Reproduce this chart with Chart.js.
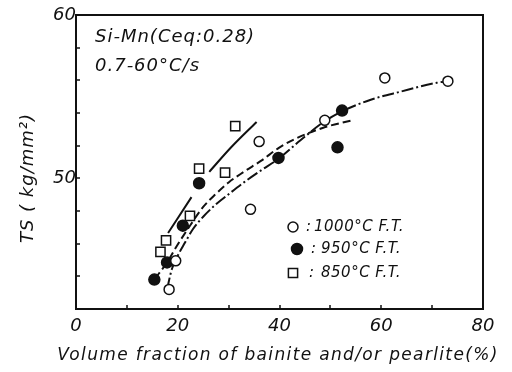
<!DOCTYPE html>
<html>
<head>
<meta charset="utf-8">
<script src="https://cdn.jsdelivr.net/npm/chart.js@4"></script>
<style>
  html, body { margin: 0; padding: 0; background: #fff; }
  canvas { display: block; }
</style>
</head>
<body>
<canvas id="ts-chart" width="512" height="372"></canvas>
<script>
// axis
const xMin = 0, xMax = 80, xStep = 10;
const yMin = 42, yMax = 60, yStep = 2;
const xTickLabels = [0, 20, 40, 60, 80];
const yTickLabels = [50, 60];

// measured TS, by finish temperature
const ft1000X = [60.7, 73.1, 48.9, 36.0, 34.3, 19.6, 18.3];
const ft1000Y = [56.15, 55.95, 53.55, 52.25, 48.1, 44.95, 43.2];
const ft950X = [52.3, 51.4, 39.8, 24.2, 21.0, 17.9, 15.4];
const ft950Y = [54.15, 51.9, 51.25, 49.7, 47.1, 44.85, 43.8];
const ft850X = [31.3, 24.2, 29.3, 22.4, 17.7, 16.6];
const ft850Y = [53.2, 50.6, 50.35, 47.7, 46.2, 45.5];

// hand-drawn trend curves
const fit1000X = [17.9, 18.8, 19.9, 21.4, 23.0, 25.0, 27.3, 30.3, 33.0, 36.2, 39.8, 44.0, 48.9, 52.3, 57.8, 63.7, 70.9, 73.1];
const fit1000Y = [43.2, 44.4, 45.2, 46.05, 46.9, 47.65, 48.35, 49.1, 49.75, 50.45, 51.2, 52.3, 53.5, 54.1, 54.8, 55.3, 55.85, 55.95];
const fit950X = [15.5, 17.9, 19.6, 22.4, 25.0, 27.5, 30.0, 33.0, 36.5, 39.8, 43.0, 48.6, 54.2];
const fit950Y = [43.85, 44.85, 45.75, 47.1, 48.25, 49.05, 49.75, 50.4, 51.1, 51.85, 52.4, 53.1, 53.55];
const fit850X = [18.1, 22.7, 24.4, 26.2, 30.5, 35.5];
const fit850Y = [46.65, 48.85, null, 50.4, 51.9, 53.45];

const legendLabels = ["1000°C F.T.", "950°C F.T.", "850°C F.T."];
const noteLines = ["Si-Mn(Ceq:0.28)", "0.7-60°C/s"];
const xTitle = "Volume fraction of bainite and/or pearlite(%)";
const yTitle = "TS ( kg/mm²)";

const ink = "#111";
const italic = (size) => ({ family: "'DejaVu Sans', sans-serif", style: "italic", size });

const pts = (xs, ys) => xs.map((x, i) => ({ x, y: ys[i] }));

function curve(xs, ys, dash) {
  return {
    type: "line",
    data: pts(xs, ys),
    borderColor: ink,
    borderWidth: 2,
    borderDash: dash,
    pointRadius: 0,
    cubicInterpolationMode: "monotone",
    spanGaps: false,
    order: 2,
  };
}

function marks(xs, ys, style, fill, radius) {
  return {
    type: "scatter",
    data: pts(xs, ys),
    pointStyle: style,
    pointRadius: radius,
    pointBackgroundColor: fill,
    pointBorderColor: ink,
    pointBorderWidth: 1.5,
    order: 1,
  };
}

const datasets = [
  curve(fit1000X, fit1000Y, [12, 3, 2, 3]),
  curve(fit950X, fit950Y, [8, 4]),
  curve(fit850X, fit850Y, []),
  marks(ft1000X, ft1000Y, "circle", "#fff", 5),
  marks(ft950X, ft950Y, "circle", ink, 5.5),
  marks(ft850X, ft850Y, "rect", "#fff", 6.5),
];

// frame, inward ticks, notes, legend and axis titles
const decorations = {
  id: "decorations",
  afterDraw(chart) {
    const { ctx, chartArea: a, scales } = chart;
    const h = Chart.helpers;
    ctx.save();
    ctx.strokeStyle = ink;
    ctx.lineWidth = 2;
    ctx.strokeRect(a.left, a.top, a.right - a.left, a.bottom - a.top);

    ctx.lineWidth = 1.5;
    ctx.beginPath();
    for (let v = yMin; v <= yMax; v += yStep) {
      const y = Math.round(scales.y.getPixelForValue(v));
      ctx.moveTo(a.left, y);
      ctx.lineTo(a.left + 4, y);
    }
    for (let v = xMin + xStep; v < xMax; v += xStep) {
      const x = Math.round(scales.x.getPixelForValue(v));
      ctx.moveTo(x, a.bottom);
      ctx.lineTo(x, a.bottom - 4);
    }
    ctx.stroke();

    // the lettering is widely spaced
    ctx.fillStyle = ink;
    ctx.textBaseline = "alphabetic";
    ctx.textAlign = "left";
    ctx.font = h.toFont(italic(18)).string;
    ctx.letterSpacing = "1px";
    ctx.fillText(noteLines[0], a.left + 19, a.top + 27);
    ctx.fillText(noteLines[1], a.left + 19, a.top + 56);

    // legend
    const keys = [
      { ds: 3, x: 293, y: 227, colon: 306, text: 314 },
      { ds: 4, x: 297, y: 249, colon: 311, text: 321 },
      { ds: 5, x: 293, y: 273, colon: 309, text: 321 },
    ];
    ctx.font = h.toFont(italic(15)).string;
    ctx.letterSpacing = "0.5px";
    ctx.textBaseline = "middle";
    keys.forEach((k, i) => {
      const d = chart.data.datasets[k.ds];
      ctx.fillStyle = d.pointBackgroundColor;
      ctx.strokeStyle = ink;
      ctx.lineWidth = 1.5;
      h.drawPoint(ctx, { pointStyle: d.pointStyle, radius: d.pointRadius, rotation: 0, borderWidth: 1.5 }, k.x, k.y);
      ctx.fillStyle = ink;
      ctx.fillText(":", k.colon, k.y);
      ctx.fillText(legendLabels[i], k.text, k.y);
    });

    ctx.textAlign = "center";
    ctx.textBaseline = "alphabetic";
    ctx.font = h.toFont(italic(17)).string;
    ctx.letterSpacing = "1.35px";
    ctx.fillText(xTitle, 278, 360);

    ctx.font = h.toFont(italic(18)).string;
    ctx.letterSpacing = "1px";
    ctx.textBaseline = "middle";
    ctx.translate(28, 178);
    ctx.rotate(-Math.PI / 2);
    ctx.fillText(yTitle, 0, 0);
    ctx.restore();
  },
};

new Chart(document.getElementById("ts-chart"), {
  data: { datasets },
  options: {
    responsive: false,
    animation: false,
    layout: { padding: { left: 0, right: 29, top: 15, bottom: 0 } },
    plugins: { legend: { display: false }, tooltip: { enabled: false } },
    scales: {
      x: {
        type: "linear",
        min: xMin,
        max: xMax,
        afterFit: (s) => { s.height = 63; },
        afterBuildTicks: (s) => { s.ticks = xTickLabels.map((value) => ({ value })); },
        grid: { display: false, drawTicks: false },
        border: { display: false },
        ticks: { color: ink, font: italic(18), padding: 7, maxRotation: 0 },
      },
      y: {
        type: "linear",
        min: yMin,
        max: yMax,
        afterFit: (s) => { s.width = 76; },
        afterBuildTicks: (s) => { s.ticks = yTickLabels.map((value) => ({ value })); },
        grid: { display: false, drawTicks: false },
        border: { display: false },
        ticks: { color: ink, font: italic(18), padding: 0 },
      },
    },
  },
  plugins: [decorations],
});
</script>
</body>
</html>
